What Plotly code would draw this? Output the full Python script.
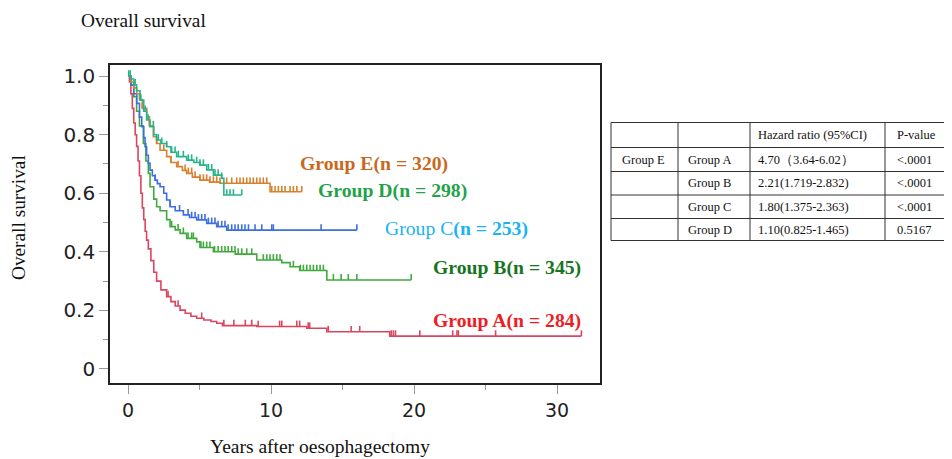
import numpy as np
import plotly.graph_objects as go

# ---------------- data ----------------
times_A = [0, 0.1, 0.2, 0.3, 0.4, 0.5, 0.6, 0.7, 0.8, 0.9, 1.0, 1.1, 1.2, 1.3, 1.42, 1.6, 1.8, 2.0, 2.3, 2.7,
           3.0, 3.3, 3.64, 4.0, 4.4, 4.8, 5.3, 5.8, 6.2, 6.6, 9.0, 12.5, 13.9, 18.3]
surv_A = [1.0, 0.98, 0.94, 0.89, 0.84, 0.80, 0.76, 0.71, 0.66, 0.60, 0.55, 0.51, 0.47, 0.44, 0.41, 0.37, 0.33, 0.30,
          0.27, 0.247, 0.23, 0.215, 0.201, 0.19, 0.18, 0.173, 0.167, 0.162, 0.156, 0.148, 0.145, 0.139, 0.127, 0.112]
end_A = 31.7
cens_A = [2.8, 3.5, 5.15, 6.7, 7.4, 8.2, 8.65, 9.1, 10.6, 10.75, 11.8, 12.0, 12.6, 12.7, 14.0, 15.6, 16.2,
          18.4, 18.55, 18.7, 20.4, 22.7, 23.0, 23.1, 25.7, 31.7]

times_B = [0, 0.2, 0.4, 0.6, 0.8, 1.07, 1.25, 1.42, 1.54, 1.8, 2.0, 2.24, 2.7, 2.94, 3.3, 3.64, 4.1, 4.8, 5.03,
           5.97, 7.5, 9.0, 10.75, 11.33, 12.0, 13.9]
surv_B = [1.0, 0.97, 0.93, 0.88, 0.83, 0.77, 0.71, 0.668, 0.622, 0.58, 0.554, 0.54, 0.51, 0.486, 0.475, 0.463,
          0.446, 0.434, 0.415, 0.400, 0.392, 0.372, 0.363, 0.349, 0.336, 0.304]
end_B = 19.8
cens_B = [3.05, 3.5, 3.87, 4.2, 4.45, 4.57, 5.1, 5.27, 5.5, 5.73, 6.05, 6.3, 6.55, 6.78, 7.0, 7.25, 7.48, 7.7,
          7.95, 8.3, 8.65, 9.46, 9.7, 9.93, 10.16, 10.4, 10.63, 11.56, 12.05, 12.26, 12.5, 12.73, 12.96, 13.2,
          13.43, 13.66, 14.36, 14.9, 15.4, 16.0, 19.8]

times_C = [0, 0.2, 0.4, 0.61, 0.8, 0.96, 1.1, 1.19, 1.3, 1.42, 1.54, 1.7, 1.89, 2.05, 2.24, 2.5, 2.7, 2.94, 3.3,
           3.87, 4.3, 4.8, 5.5, 6.2, 6.9]
surv_C = [1.0, 0.97, 0.94, 0.907, 0.86, 0.827, 0.79, 0.759, 0.73, 0.702, 0.679, 0.66, 0.645, 0.633, 0.622, 0.60,
          0.577, 0.554, 0.54, 0.526, 0.517, 0.509, 0.497, 0.486, 0.474]
end_C = 16.0
cens_C = [1.9, 2.95, 3.6, 4.2, 4.45, 4.69, 4.92, 5.15, 5.38, 5.62, 5.85, 6.08, 6.3, 6.55, 6.78, 7.0, 7.25, 7.48,
          7.7, 7.95, 8.18, 8.42, 8.88, 9.35, 10.05, 10.16, 13.5, 16.0]

times_D = [0, 0.2, 0.4, 0.6, 0.84, 1.1, 1.3, 1.54, 1.8, 2.0, 2.3, 2.7, 3.0, 3.4, 4.1, 4.6, 5.03, 5.5, 5.97,
           6.55, 6.7]
surv_D = [1.0, 0.99, 0.97, 0.95, 0.918, 0.88, 0.85, 0.827, 0.80, 0.782, 0.77, 0.759, 0.74, 0.725, 0.713, 0.705,
          0.696, 0.68, 0.662, 0.651, 0.594]
end_D = 7.95
cens_D = [0.05, 0.15, 0.5, 0.9, 1.2, 1.4, 1.77, 2.12, 2.36, 2.7, 3.05, 3.29, 3.52, 3.87, 4.22, 4.45, 4.8, 5.03,
          5.27, 5.62, 5.85, 6.08, 6.3, 6.55, 6.9, 7.13, 7.37, 7.95]

times_E = [0, 0.2, 0.4, 0.61, 0.8, 1.0, 1.31, 1.5, 1.77, 2.0, 2.24, 2.7, 3.0, 3.4, 3.8, 4.1, 4.5, 5.03, 5.7,
           6.43, 9.93]
surv_E = [1.0, 0.98, 0.96, 0.94, 0.92, 0.89, 0.861, 0.83, 0.793, 0.77, 0.747, 0.725, 0.705, 0.691, 0.678, 0.668,
          0.655, 0.645, 0.638, 0.634, 0.605]
end_E = 12.15
cens_E = [1.0, 1.5, 2.0, 2.5, 3.0, 3.5, 3.99, 4.22, 4.45, 4.69, 5.03, 5.27, 5.5, 5.73, 5.97, 6.2, 6.43, 6.9,
          7.25, 7.6, 7.83, 8.06, 8.3, 8.53, 8.76, 9.0, 9.23, 9.46, 9.7, 10.05, 10.28, 10.51, 10.75, 10.98, 11.33,
          11.56, 11.8, 12.15]

group_labels = ["Group A(n = 284)", "Group B(n = 345)", "Group C(n = 253)", "Group D(n = 298)", "Group E(n = 320)"]

x_ticks = [0, 10, 20, 30]
y_ticks = [0, 0.2, 0.4, 0.6, 0.8, 1.0]
y_ticktext = ["0", "0.2", "0.4", "0.6", "0.8", "1.0"]

table_col1 = ["", "Group E", "", "", ""]
table_col2 = ["", "Group A", "Group B", "Group C", "Group D"]
table_col3 = ["Hazard ratio (95%CI)", "4.70（3.64-6.02）", "2.21(1.719-2.832)", "1.80(1.375-2.363)",
              "1.10(0.825-1.465)"]
table_col4 = ["P-value", "<.0001", "<.0001", "<.0001", "0.5167"]

# ---------------- styling / layout ----------------
W, H = 944, 451      # page body has an 8px margin
OFF = 8


def px(x):
    return (x - OFF) / W


def py(y):
    return 1 - (y - OFF) / H


line_colors = {"A": "#dc4560", "B": "#3fab3c", "C": "#3d6fe0", "D": "#27b489", "E": "#d7812e"}
label_colors = {"A": "#ee1c25", "B": "#17751f", "C": "#1ab4f0", "D": "#1fa34a", "E": "#c8691e"}
SERIF = "Liberation Serif, Times New Roman, serif"
SANS = "DejaVu Sans, Verdana, sans-serif"

fig = go.Figure()

groups = {
    "A": (times_A, surv_A, end_A, cens_A),
    "B": (times_B, surv_B, end_B, cens_B),
    "C": (times_C, surv_C, end_C, cens_C),
    "E": (times_E, surv_E, end_E, cens_E),
    "D": (times_D, surv_D, end_D, cens_D),
}

for g, (t, s, e, c) in groups.items():
    tt = list(t) + [e]
    ss = list(s) + [s[-1]]
    fig.add_trace(go.Scatter(x=tt, y=ss, mode="lines", line=dict(color=line_colors[g], width=1.6, shape="hv"),
                             showlegend=False, hoverinfo="skip"))
    idx = np.searchsorted(np.array(t), np.array(c), side="right") - 1
    cy = np.array(s)[idx]
    fig.add_trace(go.Scatter(x=c, y=cy, mode="markers", marker=dict(size=1, color=line_colors[g], opacity=0),
                             error_y=dict(type="data", symmetric=False, array=[0.02] * len(c),
                                          arrayminus=[0] * len(c), color=line_colors[g], thickness=1.6, width=0),
                             showlegend=False, hoverinfo="skip"))

# group labels (positioned in data coordinates)
label_pos = {"E": (17.17, 0.703), "D": (18.46, 0.611), "C": (22.94, 0.478), "B": (26.47, 0.348),
             "A": (26.5, 0.167)}
for i, g in enumerate(["A", "B", "C", "D", "E"]):
    txt = group_labels[i]
    if g == "C":
        pre, post = txt.split("(", 1)
        txt = pre + "<b>(" + post + "</b>"
    else:
        txt = "<b>" + txt + "</b>"
    x, y = label_pos[g]
    fig.add_annotation(x=x, y=y, xref="x", yref="y", text=txt, showarrow=False, xanchor="center",
                       yanchor="middle", font=dict(family=SERIF, size=19.7, color=label_colors[g]))

# hazard ratio table drawn with lines + text
col_w = [67, 72, 135, 65]
row_h = [25, 24, 23.5, 23.5, 22]
tx0, ty0 = 611, 122.5
col_edges = [tx0] + list(tx0 + np.cumsum(col_w))
row_edges = [ty0] + list(ty0 + np.cumsum(row_h))
for xe in col_edges:
    fig.add_shape(type="line", xref="paper", yref="paper", x0=px(xe), x1=px(xe), y0=py(row_edges[0]),
                  y1=py(row_edges[-1]), line=dict(color="#333", width=1))
for ye in row_edges:
    fig.add_shape(type="line", xref="paper", yref="paper", x0=px(col_edges[0]), x1=px(col_edges[-1]),
                  y0=py(ye), y1=py(ye), line=dict(color="#333", width=1))
cols = [table_col1, table_col2, table_col3, table_col4]
pads = [9, 8, 6, 10]
for ci, col in enumerate(cols):
    for ri, val in enumerate(col):
        if not val:
            continue
        yc = (row_edges[ri] + row_edges[ri + 1]) / 2
        fig.add_annotation(x=px(col_edges[ci] + pads[ci]), y=py(yc), xref="paper", yref="paper", text=val,
                           showarrow=False, xanchor="left", yanchor="middle",
                           font=dict(family=SERIF, size=12.5, color="#111"))

# titles
fig.add_annotation(x=px(143), y=py(20), xref="paper", yref="paper", text="Overall survival",
                   showarrow=False, xanchor="center", yanchor="middle",
                   font=dict(family=SERIF, size=19.3, color="#111"))
fig.add_annotation(x=px(19), y=py(218), xref="paper", yref="paper", text="Overall survival",
                   showarrow=False, textangle=-90, xanchor="center", yanchor="middle",
                   font=dict(family=SERIF, size=19.3, color="#111"))
fig.add_annotation(x=px(320), y=py(446), xref="paper", yref="paper", text="Years after oesophagectomy",
                   showarrow=False, xanchor="center", yanchor="middle",
                   font=dict(family=SERIF, size=19.5, color="#111"))

fig.update_layout(
    width=W, height=H,
    margin=dict(l=0, r=0, t=0, b=0),
    paper_bgcolor="white", plot_bgcolor="white",
    xaxis=dict(domain=[px(110), px(600)], range=[-1.26, 33.0], tickvals=x_ticks,
               ticks="outside", ticklen=9, tickcolor="#999", tickwidth=1.3,
               minor=dict(tickvals=[5, 15, 25], ticks="outside", ticklen=5, tickcolor="#999", tickwidth=1.3),
               showline=True, linecolor="#222", linewidth=1.6, mirror=True, showgrid=False, zeroline=False,
               tickfont=dict(family=SANS, size=19, color="#222"), automargin=False),
    yaxis=dict(domain=[py(383), py(65)], range=[-0.048, 1.038], tickvals=y_ticks,
               ticktext=y_ticktext, ticks="outside", ticklen=9, tickcolor="#999", tickwidth=1.3,
               minor=dict(tickvals=[0.1, 0.3, 0.5, 0.7, 0.9], ticks="outside", ticklen=5, tickcolor="#999",
                          tickwidth=1.3),
               showline=True, linecolor="#222", linewidth=1.6, mirror=True, showgrid=False, zeroline=False,
               tickfont=dict(family=SANS, size=20, color="#222"), automargin=False),
)

fig.write_html("out.html")
